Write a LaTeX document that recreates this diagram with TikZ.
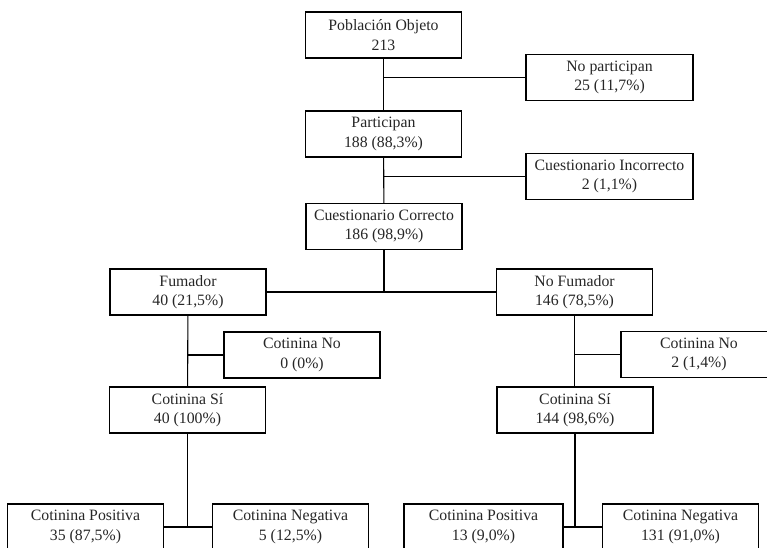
\documentclass[tikz,border=0pt]{standalone}
\usepackage{fontspec}
\setmainfont{Liberation Serif}
\usepackage{tikz}
\usetikzlibrary{calc}

\begin{document}
\begin{tikzpicture}[x=1pt, y=-1pt,
  box/.style={draw, line width=1.1pt, minimum width=156, minimum height=46, inner sep=0,
    align=center, font=\fontsize{15.8}{19.5}\selectfont, text=black!85},
  wide/.style={box, minimum width=167},
  link/.style={line width=1.1pt}]
\useasboundingbox (0, 0) rectangle (767, 547);
\clip (0, 0) rectangle (767, 547);
\node[box] (pob) at (383.5, 35) {Población Objeto\\213};
\node[wide] (nopart) at (609.5, 77.5) {No participan\\25 (11,7\%)};
\node[box] (part) at (383.5, 134) {Participan\\188 (88,3\%)};
\node[wide] (cincor) at (609.5, 176.5) {Cuestionario Incorrecto\\2 (1,1\%)};
\node[box] (ccor) at (384, 226.5) {Cuestionario Correcto\\186 (98,9\%)};
\node[box] (fum) at (188, 292) {Fumador\\40 (21,5\%)};
\node[box] (nofum) at (574.5, 292) {No Fumador\\146 (78,5\%)};
\node[box] (cnoL) at (302, 355) {Cotinina No\\0 (0\%)};
\node[box] (cnoR) at (699, 354.5) {Cotinina No\\2 (1,4\%)};
\node[box] (csiL) at (187.5, 410) {Cotinina Sí\\40 (100\%)};
\node[box] (csiR) at (575, 410) {Cotinina Sí\\144 (98,6\%)};
\node[box] (cposL) at (85.5, 527) {Cotinina Positiva\\35 (87,5\%)};
\node[box] (cnegL) at (290.5, 527) {Cotinina Negativa\\5 (12,5\%)};
\node[box, minimum width=159] (cposR) at (483.5, 527) {Cotinina Positiva\\13 (9,0\%)};
\node[box] (cnegR) at (680.5, 527) {Cotinina Negativa\\131 (91,0\%)};
\draw[link] (pob) -- (part);
\draw[link] (pob.south |- nopart.west) -- (nopart.west);
\draw[link] (part) -- (ccor);
\draw[link] (part.south |- cincor.west) -- (cincor.west);
\draw[link] (ccor.south) -- (ccor.south |- fum.east);
\draw[link] (fum.east) -- (nofum.west);
\draw[link] (fum) -- (csiL);
\draw[link] (fum.south |- cnoL.west) -- (cnoL.west);
\draw[link] (nofum.south) -- (nofum.south |- csiR.north);
\draw[link] (nofum.south |- cnoR.west) -- (cnoR.west);
\draw[link] (csiL.south) -- (csiL.south |- cposL.east);
\draw[link] (cposL.east) -- (cnegL.west);
\draw[link] (csiR.south) -- (csiR.south |- cposR.east);
\draw[link] (cposR.east) -- (cnegR.west);
\end{tikzpicture}
\end{document}
